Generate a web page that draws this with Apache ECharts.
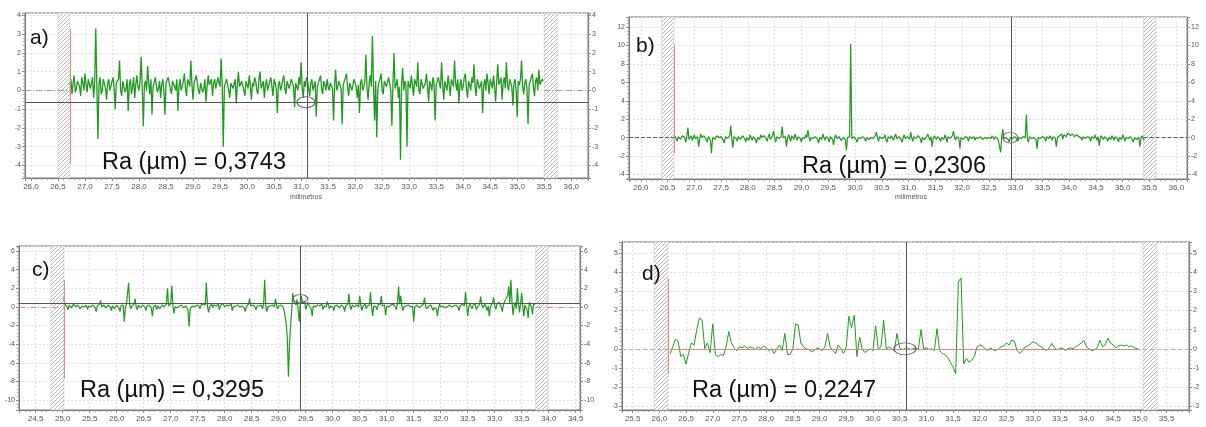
<!DOCTYPE html>
<html>
<head>
<meta charset="utf-8">
<script src="https://cdn.jsdelivr.net/npm/echarts@6/dist/echarts.min.js"></script>
<style>
  html, body { margin: 0; padding: 0; background: #fff; }
  #chart { width: 1206px; height: 427px; }
</style>
</head>
<body>
<div id="chart"></div>
<script>
// profile a) - sampled every 0.02 mm from 26.72 mm
const aStart = 26.72, aStep = 0.02;
const aValues = [
  0.3, 0.6, -0.2, 0.4, 0.8, -0.1, 0.1, 0.5, 0.6, 0.2, -0.3, 0.7, 0.4, 0.0, 0.9, 0.3, -0.1, 0.6, 0.5, 0.1,
  0.2, 0.7, -0.4, 0.5, 3.3, 0.2, -2.6, 0.4, 0.7, -0.2, 0.0, 0.6, 0.5, 0.1, -0.5, 0.4, 0.6, 0.0, 0.2, 0.5,
  0.7, 0.1, -1.0, 0.4, 0.3, 0.6, 1.6, 0.0, -0.3, 0.5, 0.4, -0.1, 0.1, 0.6, -1.1, 0.3, 0.6, -0.2, 0.2, 0.7,
  -0.4, 0.3, 0.8, 0.2, 0.0, 0.5, 1.8, 0.1, -1.9, 0.3, 0.5, 0.0, 1.3, 0.4, -0.2, 0.6, -1.3, 0.2, 0.4, 0.7,
  0.7, -0.1, 0.1, 0.5, -0.4, 0.3, 0.6, 0.0, -1.3, 0.4, 0.3, 0.7, 0.8, 0.1, -0.2, 0.5, 0.5, 0.2, 0.0, 0.6,
  -1.1, 0.2, 0.6, 0.0, 0.2, 0.5, 0.9, 0.1, -0.3, 0.6, 0.4, 0.2, 1.6, 0.3, -0.5, 0.4, 0.3, 0.8, 0.7, 0.0,
  -0.2, 0.4, 0.5, -0.1, 0.1, 0.6, -0.6, 0.2, 0.8, 0.3, 0.2, 0.6, -0.3, 0.4, 0.6, 0.1, 0.0, 0.7, 0.4, 0.2,
  1.7, 0.3, -3.0, 0.2, 0.3, 0.6, 0.7, 0.0, -0.4, 0.4, 0.5, 0.1, 0.1, 0.6, -0.7, 0.3, 1.0, 0.2, 0.2, 0.5,
  0.6, 0.0, -0.3, 0.5, 0.4, 0.1, 0.8, 0.3, -0.5, 0.4, 0.2, 0.7, 0.5, 0.0, -0.2, 0.6, 1.0, 0.1, 0.3, 0.5,
  -0.4, 0.3, 0.6, 0.0, 0.1, 0.5, 0.7, 0.2, -0.3, 0.6, 0.4, 0.1, -1.2, 0.3, 0.5, 0.0, 0.2, 0.6, 0.8, 0.1,
  -0.2, 0.5, 0.4, 0.1, 0.0, 0.6, 0.6, 0.2, -0.9, 0.4, 0.3, 0.0, 0.7, 0.3, 1.5, 0.2, -0.4, 0.5, 0.2, 0.7,
  0.5, 0.1, -0.3, 0.4, 0.6, 0.0, 0.1, 0.5, -1.4, 0.2, 0.4, 0.6, 0.8, 0.1, -0.2, 0.5, 0.3, 0.0, 0.6, 0.2,
  0.0, 0.4, 0.5, 0.1, -1.6, 0.3, 1.1, 0.0, 0.2, 0.5, 0.6, 0.1, -1.8, 0.3, 0.4, 0.7, 0.9, 0.2, -0.3, 0.4,
  0.5, 0.0, 0.1, 0.6, 0.7, 0.2, -0.4, 0.3, -1.2, 0.4, 0.6, 0.0, 0.2, 0.5, 1.9, 0.1, -0.5, 0.4, 0.8, 0.2,
  2.9, 0.3, -1.6, 0.5, -2.5, 0.1, 0.4, 0.6, 0.9, 0.0, -0.2, 0.5, 0.6, 0.2, 0.1, 0.7, 0.7, 0.0, -1.9, 0.4,
  2.0, 0.1, 0.3, 0.6, -0.4, 0.2, -3.7, 0.4, 1.2, 0.0, 0.5, 0.3, -3.0, 0.5, 0.4, 0.1, 0.8, 0.3, -0.3, 0.6,
  0.6, 0.2, 1.5, 0.0, -0.2, 0.6, 0.5, 0.1, 0.1, 0.4, 0.9, 0.2, -0.6, 0.5, 0.3, 0.0, 0.7, 0.4, -1.6, 0.3,
  0.2, 0.7, 0.6, 0.1, 1.5, 0.3, -0.5, 0.5, 0.4, 0.0, 0.8, 0.3, -0.3, 0.6, 0.5, 0.2, 1.6, 0.4, 0.0, 0.6,
  -0.7, 0.3, 0.6, 0.0, 0.2, 0.7, 0.9, 0.1, -0.4, 0.5, 0.3, 0.0, 0.7, 0.4, 1.4, 0.2, -0.3, 0.6, 0.5, 0.1,
  0.1, 0.5, -1.2, 0.3, 0.6, 0.0, 0.9, 0.4, -0.2, 0.6, 0.4, 0.1, 0.8, 0.2, -0.6, 0.5, 1.4, 0.3, 0.2, 0.7,
  -0.5, 0.4, 0.7, 0.1, 1.5, 0.3, 0.0, 0.6, 0.5, 0.2, -0.8, 0.4, 0.6, 0.0, -1.4, 0.5, 0.3, 0.6, 1.6, 0.2,
  -0.2, 0.4, 0.6, 0.1, -1.8, 0.3, 0.4, 0.7, 0.9, 0.2, -0.3, 0.5, 0.7, 0.0, 1.1, 0.3, 0.2, 0.6, 0.5
];

// profile b)
const bStart = 26.64, bStep = 0.02;
const bValues = [
  0.2, -0.1, -0.4, 0.1, 0.3, -0.2, -0.2, 0.2, 0.4, 0.0, -0.5, 0.1, 1.1, -0.2, 0.0, 0.2, -0.3, 0.0, 0.3, -0.1,
  -0.2, 0.1, -1.0, -0.2, 0.4, 0.0, -0.1, 0.2, 0.2, -0.2, -0.5, 0.1, 0.3, -0.3, -1.7, 0.0, 0.1, -0.2, -0.3, 0.2,
  0.4, 0.0, -0.2, 0.1, 0.2, -0.3, -0.6, 0.1, 0.3, -0.1, 0.0, 0.2, 1.3, -0.2, -1.1, 0.1, 0.2, -0.1, -0.4, 0.1,
  0.3, -0.2, -0.1, 0.2, 0.2, -0.1, -0.5, 0.0, 0.1, -0.3, 0.3, 0.0, -0.3, 0.1, 0.2, -0.2, -0.6, 0.0, 0.1, -0.2,
  0.3, 0.0, -0.2, 0.2, 0.0, -0.1, -0.4, 0.1, 0.4, -0.2, -0.1, 0.2, 0.7, 0.0, -0.5, 0.1, 0.2, -0.1, -0.3, 0.1,
  1.2, 0.0, -0.2, 0.1, -1.0, -0.1, 0.3, 0.0, -0.4, 0.2, 0.1, -0.2, 0.4, 0.0, -0.3, 0.1, 0.2, -0.1, -0.5, 0.0,
  0.1, -0.1, 0.3, 0.0, 0.8, 0.1, -0.4, 0.0, 0.2, -0.1, -0.2, 0.1, 0.3, -0.2, -0.6, 0.0, 0.1, -0.2, 0.4, 0.0,
  -0.3, 0.1, 0.2, -0.1, -0.5, 0.1, 0.0, -0.2, -0.8, 0.0, 0.3, -0.1, -0.2, 0.1, 0.1, -0.3, -0.4, 0.0, 0.2, -0.2,
  -1.4, 0.0, -0.2, 0.1, 10.2, -0.1, -0.3, 0.1, 0.1, -0.2, -0.5, 0.0, 0.2, -0.1, -0.2, 0.1, 0.3, -0.1, -0.4, 0.0,
  0.1, -0.2, -0.3, 0.0, 0.2, -0.1, -0.1, 0.2, 0.6, 0.0, -0.4, 0.1, 0.2, -0.1, -0.2, 0.0, 0.3, -0.2, -0.5, 0.1,
  0.1, -0.1, 0.2, 0.0, -0.3, 0.1, 0.4, -0.1, -0.2, 0.1, 0.0, -0.2, -0.5, 0.0, 0.3, -0.1, -0.1, 0.1, 0.2, -0.2,
  0.6, 0.0, -0.4, 0.1, 0.1, -0.1, -0.2, 0.2, 0.3, -0.1, -0.6, 0.0, 0.2, -0.2, -0.1, 0.1, 0.4, 0.0, -0.3, 0.1,
  -1.0, -0.1, 0.2, 0.0, -0.2, 0.1, 0.3, -0.1, -0.4, 0.0, 0.1, -0.2, 0.3, 0.0, -0.5, 0.1, 0.2, -0.1, -0.1, 0.2,
  0.7, 0.0, -0.3, 0.1, 0.2, -0.1, -1.2, 0.0, 0.1, -0.2, -0.2, 0.1, 0.3, 0.0, -0.4, 0.1, 0.2, -0.1, 0.0, 0.1,
  -0.3, 0.0, 0.2, -0.1, -0.1, 0.1, 0.1, -0.2, -0.2, 0.0, 0.2, -0.1, -0.3, 0.0, 0.1, -0.1, 0.2, 0.0, -0.2, 0.1,
  0.1, -0.1, -0.4, -0.2, -1.6, 0.0, 0.9, -0.1, -0.3, 0.0, 0.2, -0.2, -0.5, 0.0, 0.1, -0.1, -0.2, 0.1, 0.3, -0.1,
  -0.4, 0.0, 0.1, -0.1, -0.2, 0.1, 0.2, 0.0, 2.5, -0.2, -0.5, 0.1, 0.2, -0.1, -0.3, 0.0, 0.1, -0.2, -1.2, 0.0,
  0.2, -0.1, -0.2, 0.1, 0.3, 0.0, -0.4, 0.1, 0.1, -0.1, 0.2, 0.0, -0.3, 0.1, 0.3, -0.1, -1.0, 0.0, 0.1, 0.2,
  0.2, 0.4, -0.2, 0.3, 0.4, 0.1, 0.3, 0.5, 0.6, 0.2, 0.2, 0.4, 0.4, 0.1, -0.1, 0.3, 0.5, 0.1, 0.2, 0.0,
  -0.3, 0.1, 0.3, -0.1, -0.2, 0.1, 0.2, 0.0, -0.4, 0.1, 0.1, -0.1, 0.3, 0.0, -0.3, 0.1, -0.9, -0.1, 0.2, 0.0,
  -0.2, 0.1, 0.3, -0.1, -0.4, 0.0, 0.1, -0.2, 0.2, 0.0, -0.3, 0.1, 0.2, -0.1, -0.5, 0.0, 0.1, -0.2, 0.3, 0.0,
  -0.4, 0.0, 0.2, -0.1, -0.2, 0.1, 0.3, -0.2, -0.5, 0.0, 0.1, -0.2, -0.3, 0.0, -1.0, -0.1, 0.2, 0.0, -0.3
];

// profile c)
const cStart = 25.02, cStep = 0.02;
const cValues = [
  1.0, 0.3, 0.1, 0.0, -0.3, 0.2, 0.2, -0.1, -0.1, 0.3, 0.3, 0.0, -0.2, 0.2, 0.1, -0.2, -0.4, 0.1, 0.2, 0.0,
  0.0, 0.2, -0.3, 0.1, 0.3, 0.0, -0.1, 0.2, 0.2, -0.1, -0.5, 0.1, 0.1, 0.3, 0.7, 0.0, -0.2, 0.2, 0.2, -0.1,
  -0.1, 0.2, 0.3, 0.0, -0.4, 0.1, 0.1, -0.2, -0.2, 0.2, 0.2, -0.1, -0.5, 0.1, 0.0, 0.2, -1.6, -0.1, 0.3, 0.1,
  2.6, 0.2, -0.2, 0.1, 0.1, 0.3, 0.9, 0.0, -0.3, 0.2, 0.2, -0.1, -0.1, 0.2, 0.3, 0.0, -0.4, 0.1, 0.0, 0.2,
  0.2, -0.1, -1.0, 0.0, 0.1, 0.2, -0.3, 0.1, 0.3, -0.2, -0.1, 0.2, 0.2, 0.0, -0.2, 0.3, 2.0, 0.1, 0.1, 0.3,
  2.3, 0.2, -0.7, 0.0, 0.2, -0.1, -0.3, 0.1, 0.1, 0.2, 0.3, -0.1, -0.2, 0.1, 0.0, -0.3, -2.1, -0.2, -0.4, 0.1,
  0.2, 0.0, -0.1, 0.2, 0.3, 0.1, -0.2, 0.2, 0.1, 0.3, 0.4, 0.2, 2.6, 0.1, -0.6, 0.0, 0.2, 0.3, -0.1, 0.2,
  0.3, 0.1, 0.0, 0.3, -0.3, 0.1, 0.2, 0.4, 0.4, 0.0, -0.2, 0.2, 0.3, 0.1, 0.1, 0.3, -0.4, 0.0, 0.2, 0.1,
  0.0, 0.2, 0.3, 0.0, -0.2, 0.1, 0.2, -0.1, -0.5, 0.0, 0.1, 0.3, 0.9, 0.1, -0.1, 0.2, 0.3, 0.0, -0.3, 0.1,
  0.2, 0.1, 0.0, 0.2, -0.2, 0.3, 2.9, 0.1, -0.5, 0.0, 0.2, 0.1, -0.1, 0.2, 0.3, 0.0, 0.9, 0.2, -0.2, 0.1,
  0.1, 0.2, 0.3, 0.0, -0.4, -0.6, -1.8, -3.5, -7.5, -4.0, -2.0, -0.5, 1.5, 0.6, 0.4, 0.2, 0.8, -0.3, -1.6, 0.3,
  1.2, 0.4, 0.2, 0.6, -0.3, 0.1, 0.5, 0.2, 0.1, -0.2, -1.0, 0.1, 0.3, 0.0, -0.2, 0.2, 0.4, 0.1, 0.0, 0.3,
  -0.3, 0.1, 0.3, 0.0, 0.6, 0.2, -0.2, 0.1, 0.2, 0.0, -0.4, 0.1, 0.1, 0.2, 0.3, -0.1, -0.2, 0.2, 0.2, 0.0,
  -0.5, 0.1, 0.0, 0.3, 1.4, 0.1, -0.3, 0.2, 0.2, 0.0, -0.1, 0.2, 0.3, 0.0, 1.2, 0.2, -0.4, 0.1, 0.1, 0.3,
  -0.2, 0.1, 0.3, 0.2, 1.6, 0.0, -1.0, 0.1, 0.2, 0.0, -0.3, 0.2, 0.1, 0.3, 1.2, 0.1, 0.0, 0.2, -0.9, 0.1,
  0.3, 0.0, -0.2, 0.2, 0.1, 0.3, 0.4, 0.0, -0.3, 0.4, 2.2, 0.3, 1.2, 0.1, -0.4, 0.0, 0.2, 0.1, -0.1, 0.2,
  0.3, 0.0, -0.2, 0.1, -1.6, 0.0, 0.1, 0.2, 0.3, -0.1, -0.3, 0.1, 0.2, 0.3, 1.0, 0.1, -0.2, 0.0, 0.1, 0.2,
  0.2, 0.0, -0.4, -0.1, 0.0, -0.2, -1.0, -0.1, 0.3, 0.0, -0.1, 0.1, 0.2, -0.1, -0.3, 0.0, 0.1, 0.2, 0.2, 0.0,
  -0.2, 0.1, 0.0, 0.2, 0.3, 0.0, -0.4, 0.1, 0.1, 0.3, 0.2, 0.1, 1.6, 0.2, -1.0, 0.0, 0.3, 0.1, -0.2, 0.2,
  0.1, 0.3, -0.3, 0.0, 0.2, 0.3, 1.1, 0.2, -0.1, 0.1, 0.3, 0.0, -0.4, 0.1, -1.0, 0.0, 0.2, 0.4, 1.0, 0.2,
  -0.3, 0.3, 0.2, 0.5, 0.4, 0.0, -0.5, 0.2, 0.3, 0.8, 0.6, 1.2, 2.2, 0.4, 2.9, 0.6, -0.9, 0.1, 0.5, -0.2,
  2.0, 0.3, -0.6, 0.4, 1.5, 0.1, -1.0, 0.2, 0.4, -0.3, -1.2, 0.5, 0.6, 0.0, -0.8, 0.3, 0.2
];

// profile d)
const dStart = 26.2, dStep = 0.05;
const dValues = [
  -0.25, 0.1, 0.5, 0.4, -0.4, -0.3, -0.8, -0.2, 0.3, 0.2,
  1.0, 1.6, 1.5, 0.0, 0.3, -0.2, 1.3, -0.3, -0.4, -0.3,
  -0.35, 0.1, 0.9, 0.3, 0.05, -0.1, 0.1, 0.05, 0.15, 0.0,
  0.1, 0.05, -0.05, 0.1, 0.0, 0.15, 0.05, -0.1, 0.0, -0.25,
  0.0, 0.2, -0.1, 0.8, -0.3, -0.3, 0.0, 1.3, 1.25, 0.3,
  0.1, 0.0, -0.05, -0.15, -0.1, 0.05, 0.0, -0.1, 0.1, 0.8,
  0.1, -0.1, -0.25, 0.2, 0.0, -0.25, 0.1, 1.7, 1.1, 1.75,
  -0.4, 0.6, 0.0, -0.2, -0.1, 0.0, -0.1, 1.2, 0.0, 0.1,
  1.5, 0.0, 0.1, 0.0, -0.1, 0.8, 0.05, -0.05, 0.0, 0.05,
  -0.05, 0.0, 0.05, -0.05, 1.0, 0.0, 0.05, -0.05, 0.0, -0.1,
  1.05, -0.1, -0.25, -0.3, -0.45, -0.7, -0.95, -1.3, 3.5, 3.7,
  -0.8, -0.5, -0.7, -0.6, -0.4, 0.1, 0.2, 0.15, 0.0, -0.1,
  0.05, -0.05, -0.1, 0.0, 0.1, 0.15, 0.3, 0.2, 0.45, 0.4,
  -0.1, -0.25, -0.1, 0.1, 0.15, 0.25, 0.37, 0.3, 0.2, 0.1,
  0.0, -0.1, 0.05, 0.28, 0.05, -0.05, 0.0, 0.05, -0.1, 0.0,
  0.05, 0.0, 0.1, 0.2, 0.3, 0.45, 0.1, 0.0, -0.1, -0.05,
  0.05, 0.45, 0.1, 0.2, 0.55, 0.3, 0.2, 0.05, 0.15, 0.2,
  0.15, 0.2, 0.1, 0.15, 0.05, 0.0, -0.05
];

const raLabels = ['Ra (µm) = 0,3743', 'Ra (µm) = 0,2306', 'Ra (µm) = 0,3295', 'Ra (µm) = 0,2247'];
const panelTags = ['a)', 'b)', 'c)', 'd)'];

// layout per panel (pixels and axis ranges)
const panels = [
  { start: aStart, step: aStep, vals: aValues, width: 1.3,
    grid: { left: 25, top: 13, width: 563, height: 165 },
    x: [25.89, 36.31], y: [-4.67, 4.13],
    hatch: [[26.5, 26.72], [35.5, 35.74]],
    edge: [26.72, 3.3, -3.9], cursor: 31.11, level: -0.65,
    ring: [31.09, -0.63, 18, 11], zero: 'dashdot',
    tag: [30, 38], ra: [102, 163] },
  { start: bStart, step: bStep, vals: bValues, width: 1.2,
    grid: { left: 629, top: 17, width: 558, height: 162 },
    x: [25.78, 36.2], y: [-4.5, 13.1],
    hatch: [[26.39, 26.62], [35.39, 35.62]],
    edge: [26.62, 10.1, -1.7], cursor: 32.91, level: null,
    ring: [32.9, 0, 15, 11], zero: 'teal',
    tag: [636, 46], ra: [802, 167] },
  { start: cStart, step: cStep, vals: cValues, width: 1.2,
    grid: { left: 19, top: 246, width: 561, height: 164 },
    x: [24.19, 34.58], y: [-11.07, 6.54],
    hatch: [[24.78, 25.02], [33.76, 33.98]],
    edge: [25.02, 2.9, -7.7], cursor: 29.39, level: 0.43,
    ring: [29.4, 0.88, 15, 8], zero: 'dashdot',
    tag: [32, 270], ra: [80, 391] },
  { start: dStart, step: dStep, vals: dValues, width: 1,
    grid: { left: 622, top: 242, width: 567, height: 168 },
    x: [25.3, 35.92], y: [-3.2, 5.58],
    hatch: [[25.9, 26.16], [35.06, 35.32]],
    edge: [26.17, 3.7, -1.3], cursor: 30.62, level: null,
    ring: [30.6, 0, 22, 12], zero: 'grey',
    tag: [642, 274], ra: [692, 391] }
];

function hatchPattern() {
  const c = document.createElement('canvas');
  c.width = 4; c.height = 4;
  const g = c.getContext('2d');
  g.fillStyle = '#fff';
  g.fillRect(0, 0, 4, 4);
  g.strokeStyle = '#b8b8b8';
  g.lineWidth = 1;
  g.beginPath();
  g.moveTo(0, 4); g.lineTo(4, 0);
  g.stroke();
  return c;
}
const hatchImg = hatchPattern();

const zeroStyles = {
  dashdot: { color: '#d98a8a', width: 1, type: [6, 2, 1, 2] },
  teal: { color: '#2f6f6f', width: 1, type: [4, 2] },
  grey: { color: '#c4aaaa', width: 1, type: [4, 3] }
};

const grids = [], xAxes = [], yAxes = [], series = [], graphics = [];

function xLabel(v) {
  const r = Math.round(v * 2) / 2;
  return Math.abs(v - r) < 1e-6 ? r.toFixed(1).replace('.', ',') : '';
}
function yLabel(v) {
  return Math.abs(v - Math.round(v)) < 1e-6 ? String(Math.round(v)) : '';
}

panels.forEach((p, i) => {
  grids.push(Object.assign({ show: true, borderColor: '#777', borderWidth: 1, backgroundColor: '#fff' }, p.grid));

  xAxes.push({
    type: 'value', gridIndex: i, min: p.x[0], max: p.x[1], splitNumber: 20,
    axisLine: { onZero: false, lineStyle: { color: '#777' } },
    axisTick: { length: 3, lineStyle: { color: '#888' } },
    minorTick: { show: true, splitNumber: 5, length: 2, lineStyle: { color: '#999' } },
    axisLabel: { formatter: xLabel, fontSize: 8, color: '#555', margin: 5, showMinLabel: false, showMaxLabel: false, fontFamily: 'Liberation Sans' },
    splitLine: { show: true, lineStyle: { color: '#e0e0e0', type: [2, 2] } }
  });

  const yBase = {
    type: 'value', gridIndex: i, min: p.y[0], max: p.y[1], splitNumber: 8,
    axisLine: { show: true, lineStyle: { color: '#777' } },
    axisTick: { show: true, length: 3, lineStyle: { color: '#888' } },
    minorTick: { show: true, splitNumber: 5, length: 2, lineStyle: { color: '#aaa' } },
    axisLabel: { formatter: yLabel, fontSize: 7, color: '#555', margin: 4, showMinLabel: false, showMaxLabel: false, fontFamily: 'Liberation Sans' }
  };
  yAxes.push(Object.assign({}, yBase, { position: 'left', splitLine: { show: true, lineStyle: { color: '#e0e0e0', type: [2, 2] } } }));
  yAxes.push(Object.assign({}, yBase, { position: 'right', splitLine: { show: false } }));

  const data = p.vals.map((v, k) => [+(p.start + k * p.step).toFixed(3), v]);
  const xEnd = data[data.length - 1][0];

  const lines = [
    { xAxis: p.cursor, lineStyle: { color: '#555', width: 1, type: 'solid' } },
    [{ coord: [p.edge[0], p.edge[1]], lineStyle: { color: '#e08a8a', width: 1, type: 'solid' } }, { coord: [p.edge[0], p.edge[2]] }],
    [{ coord: [p.x[0], 0], lineStyle: zeroStyles[p.zero] }, { coord: [p.edge[0], 0] }],
    [{ coord: [p.hatch[1][0], 0], lineStyle: zeroStyles[p.zero] }, { coord: [p.x[1], 0] }]
  ];
  if (p.level !== null) lines.push({ yAxis: p.level, lineStyle: { color: '#555', width: 1, type: 'solid' } });
  if (p.zero === 'grey') lines.push([{ coord: [p.start, 0], lineStyle: { color: '#d9897f', width: 1, type: 'solid' } }, { coord: [xEnd, 0] }]);

  series.push({
    type: 'line', xAxisIndex: i, yAxisIndex: i * 2, data: data,
    showSymbol: false, animation: false, silent: true,
    lineStyle: { color: '#1f9a1f', width: p.width },
    markArea: {
      silent: true,
      itemStyle: { color: { image: hatchImg, repeat: 'repeat' }, borderColor: '#c8c8c8', borderWidth: 0.6 },
      data: p.hatch.map(h => [{ xAxis: h[0] }, { xAxis: h[1] }])
    },
    markLine: { silent: true, symbol: ['none', 'none'], animation: false, label: { show: false }, data: lines },
    markPoint: {
      silent: true, animation: false, label: { show: false },
      data: [{ coord: [p.ring[0], p.ring[1]], symbol: 'circle', symbolSize: [p.ring[2], p.ring[3]],
               itemStyle: { color: 'rgba(0,0,0,0)', borderColor: '#666', borderWidth: 1 } }]
    }
  });

  graphics.push({ type: 'text', x: p.tag[0], y: p.tag[1], silent: true, z: 100,
    style: { text: panelTags[i], fontSize: 21, fill: '#111', fontFamily: 'Liberation Sans', verticalAlign: 'middle' } });
  graphics.push({ type: 'text', x: p.ra[0], y: p.ra[1], silent: true, z: 100,
    style: { text: raLabels[i], fontSize: 23.5, fill: '#111', fontFamily: 'Liberation Sans', verticalAlign: 'middle' } });
});

graphics.push({ type: 'text', x: 306, y: 197, silent: true,
  style: { text: 'milimetros', fontSize: 7, fill: '#555', fontFamily: 'Liberation Sans', align: 'center', verticalAlign: 'middle' } });
graphics.push({ type: 'text', x: 911, y: 197, silent: true,
  style: { text: 'milimetros', fontSize: 7, fill: '#555', fontFamily: 'Liberation Sans', align: 'center', verticalAlign: 'middle' } });

const chart = echarts.init(document.getElementById('chart'), null, { renderer: 'canvas' });
chart.setOption({
  animation: false,
  backgroundColor: '#fff',
  grid: grids,
  xAxis: xAxes,
  yAxis: yAxes,
  series: series,
  graphic: graphics
});
</script>
</body>
</html>
